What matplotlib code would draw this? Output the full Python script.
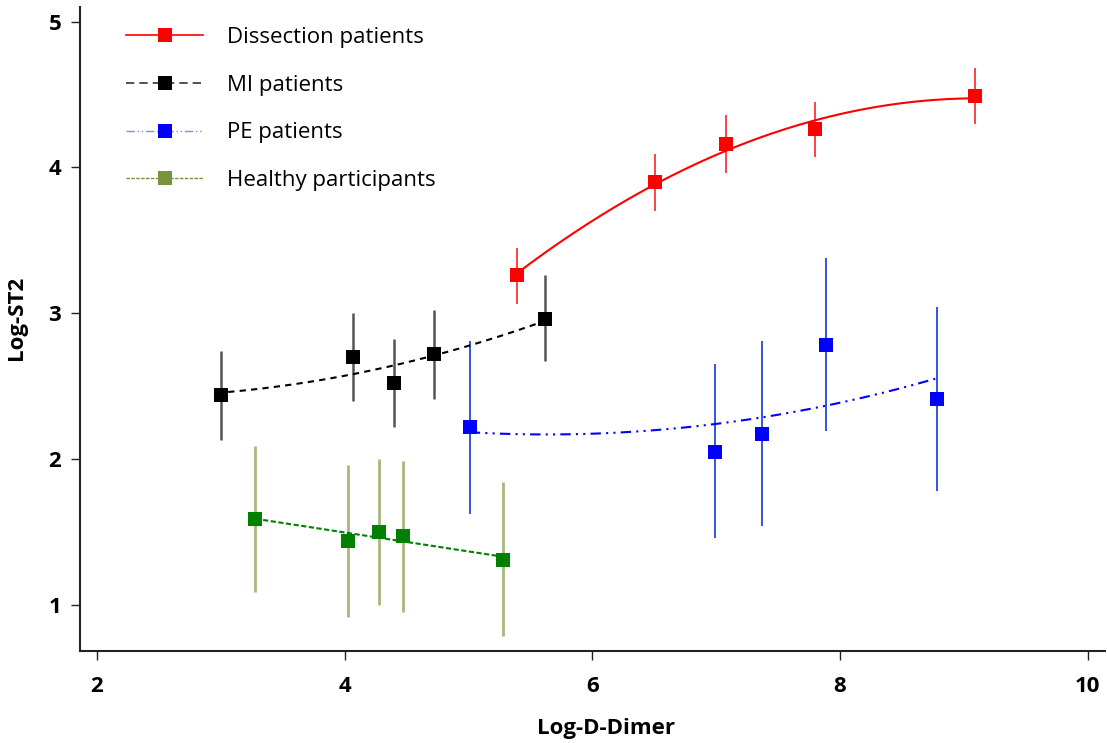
import matplotlib
matplotlib.use('Agg')
import matplotlib.pyplot as plt
from matplotlib.lines import Line2D
import numpy as np

plt.rcParams['font.family'] = ['Open Sans', 'DejaVu Sans']

# group means and error bar ends
diss_x = [5.39, 6.51, 7.08, 7.80, 9.09]
diss_y = [3.26, 3.90, 4.16, 4.26, 4.49]
diss_lo = [3.06, 3.70, 3.96, 4.07, 4.30]
diss_hi = [3.45, 4.09, 4.36, 4.45, 4.68]

mi_x = [3.00, 4.07, 4.40, 4.72, 5.62]
mi_y = [2.44, 2.70, 2.52, 2.72, 2.96]
mi_lo = [2.13, 2.40, 2.22, 2.41, 2.67]
mi_hi = [2.74, 3.00, 2.82, 3.02, 3.26]

pe_x = [5.01, 6.99, 7.37, 7.89, 8.78]
pe_y = [2.22, 2.05, 2.17, 2.78, 2.41]
pe_lo = [1.62, 1.46, 1.54, 2.19, 1.78]
pe_hi = [2.81, 2.65, 2.81, 3.38, 3.04]

hp_x = [3.28, 4.03, 4.28, 4.47, 5.28]
hp_y = [1.59, 1.44, 1.50, 1.47, 1.31]
hp_lo = [1.09, 0.92, 1.00, 0.95, 0.79]
hp_hi = [2.09, 1.96, 2.00, 1.99, 1.84]

labels = ['Dissection patients', 'MI patients', 'PE patients', 'Healthy participants']

fig = plt.figure(figsize=(11.07, 7.43), dpi=100)
ax = fig.add_axes([80 / 1107, 1 - 650.7 / 743, 1025 / 1107, 643.7 / 743])


def draw_group(x, y, lo, hi, marker_col, err_col, err_lw, ls, deg, fit_x0=None):
    x = np.array(x)
    y = np.array(y)
    ax.vlines(x, lo, hi, colors=err_col, lw=err_lw, zorder=2)
    coef = np.polyfit(x, y, deg)
    x0 = x.min() if fit_x0 is None else fit_x0
    xs = np.linspace(x0, x.max(), 200)
    ax.plot(xs, np.polyval(coef, xs), color=marker_col, lw=1.5, ls=ls, zorder=3)
    ax.plot(x, y, 's', color=marker_col, ms=9.5, mew=0, zorder=4)


draw_group(diss_x, diss_y, diss_lo, diss_hi, '#ff0000', '#ff4444', 1.4, '-', 2)
draw_group(mi_x, mi_y, mi_lo, mi_hi, '#000000', '#555555', 1.8, (0, (3, 2.5)), 2, fit_x0=3.06)
draw_group(pe_x, pe_y, pe_lo, pe_hi, '#0000ff', '#3355dd', 1.4, (0, (5, 2.5, 1, 2.5, 1, 2.5)), 2)
draw_group(hp_x, hp_y, hp_lo, hp_hi, '#008000', '#a8b87c', 2.0, (0, (2.5, 1.2)), 1)

ax.set_xlim(1.863, 10.14)
ax.set_ylim(0.686, 5.10)
ax.set_xticks([2, 4, 6, 8, 10])
ax.set_yticks([1, 2, 3, 4, 5])

for side in ['top', 'right']:
    ax.spines[side].set_visible(False)
for side in ['left', 'bottom']:
    ax.spines[side].set_linewidth(1.5)
    ax.spines[side].set_color('#222222')
ax.tick_params(direction='out', length=6.5, width=1, colors='#222222', pad=7,
               labelsize=16, labelcolor='black')
ax.tick_params(axis='x', pad=12)
for lab in ax.get_xticklabels() + ax.get_yticklabels():
    lab.set_fontweight('bold')

ax.set_xlabel('Log-D-Dimer', fontsize=16, fontweight='bold')
ax.xaxis.set_label_coords(0.513, -0.105)
ax.set_ylabel('Log-ST2', fontsize=16, fontweight='bold')
ax.yaxis.set_label_coords(-0.0514, 0.517)

handles = [
    Line2D([], [], color='#ff0000', lw=1.2, ls='-', marker='s', ms=10, mew=0),
    Line2D([], [], color='#333333', lw=1.2, ls=(0, (5, 3)), marker='s', mfc='black', ms=10, mew=0),
    Line2D([], [], color='#8888ee', lw=1.0, ls=(0, (6, 2, 1, 2, 1, 2)), marker='s', mfc='#0000ff', ms=10, mew=0),
    Line2D([], [], color='#77933c', lw=1.0, ls=(0, (2.5, 1)), marker='s', ms=10, mew=0),
]
ax.legend(handles, labels, loc='upper left', bbox_to_anchor=(0.025, 1.0), frameon=False,
          fontsize=16, handlelength=3.5, handletextpad=1.05, labelspacing=1.2)

plt.savefig('out.png', dpi=100)
plt.close()
